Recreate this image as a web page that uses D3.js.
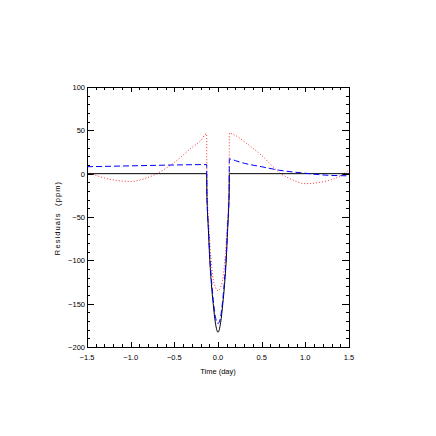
<!DOCTYPE html>
<html>
<head>
<meta charset="utf-8">
<script src="https://cdn.jsdelivr.net/npm/d3@7"></script>
<style>
  body { margin: 0; background: #fff; }
  svg text { font-family: "Liberation Sans", "DejaVu Sans", sans-serif; fill: #000; }
</style>
</head>
<body>
<svg id="chart" width="436" height="436"></svg>
<script>
// 黑色实线：模型差值
const blackT = [-1.5, -0.13, -0.128, -0.122, -0.11, -0.094, -0.075, -0.055, -0.03, 0, 0.03, 0.055, 0.075, 0.094, 0.11, 0.122, 0.128, 0.13, 1.5];
const blackV = [0, 0, -20, -40, -65, -100, -128, -150, -172, -183, -172, -150, -128, -100, -65, -40, -20, 0, 0];
// 蓝色虚线
const blueT = [-1.5, -1.0, -0.5, -0.13, -0.128, -0.122, -0.11, -0.094, -0.075, -0.055, -0.03, 0, 0.03, 0.055, 0.075, 0.094, 0.11, 0.122, 0.128, 0.13, 0.2, 0.3, 0.5, 0.7, 1.0, 1.2, 1.5];
const blueV = [8, 9, 10, 10.5, -20, -40, -62, -95, -122, -145, -165, -173, -165, -145, -122, -95, -62, -40, -20, 17, 15, 12, 8, 4, 0.5, -1.5, -2.5];
// 红色点线
const redT = [-1.5, -1.3, -1.0, -0.85, -0.7, -0.5, -0.3, -0.2, -0.13, -0.128, -0.12, -0.105, -0.09, -0.078, -0.06, -0.04, 0, 0.04, 0.06, 0.078, 0.09, 0.105, 0.12, 0.128, 0.13, 0.2, 0.34, 0.5, 0.72, 0.85, 1.0, 1.3, 1.5];
const redV = [2, -5, -9, -6, 0, 13, 30, 38, 46, 10, -30, -60, -85, -100, -118, -128, -135, -128, -118, -100, -85, -60, -30, 10, 47, 44, 34, 21, 0, -7, -11.5, -7, 4];

const xTicks = [-1.5, -1.0, -0.5, 0.0, 0.5, 1.0, 1.5];
const yTicks = [-200, -150, -100, -50, 0, 50, 100];

const svg = d3.select('#chart');
const pLeft = 87, pRight = 349, pTop = 87, pBottom = 347;
const x = d3.scaleLinear().domain([-1.5, 1.5]).range([pLeft, pRight]);
const y = d3.scaleLinear().domain([-200, 100]).range([pBottom, pTop]);

const fmtX = (d) => d3.format('.1f')(d).replace('-', '\u2212');
const fmtY = (d) => String(d).replace('-', '\u2212');

// 刻度：主刻度 + 次刻度，四边朝内
const xMinor = d3.range(-1.5, 1.5001, 0.1).map((d) => +d.toFixed(2));
const yMinor = d3.range(-200, 100.001, 10);
const majLen = 5, minLen = 3;
const tickG = svg.append('g').attr('stroke', '#000').attr('stroke-width', 1);
xMinor.forEach((t) => {
  const isMaj = xTicks.some((m) => Math.abs(m - t) < 1e-6);
  const len = isMaj ? majLen : minLen;
  const px = Math.round(x(t)) + 0.5;
  tickG.append('line').attr('x1', px).attr('x2', px).attr('y1', pBottom).attr('y2', pBottom - len);
  tickG.append('line').attr('x1', px).attr('x2', px).attr('y1', pTop).attr('y2', pTop + len);
});
yMinor.forEach((t) => {
  const isMaj = yTicks.includes(t);
  const len = isMaj ? majLen + 2 : minLen;
  const py = Math.round(y(t)) + 0.5;
  tickG.append('line').attr('y1', py).attr('y2', py).attr('x1', pLeft).attr('x2', pLeft + len);
  tickG.append('line').attr('y1', py).attr('y2', py).attr('x1', pRight).attr('x2', pRight - len);
});

// 刻度标签
svg.append('g').selectAll('text').data(xTicks).join('text')
  .attr('x', (d) => x(d)).attr('y', pBottom + 13)
  .attr('text-anchor', 'middle').attr('font-size', 7.5).text(fmtX);
svg.append('g').selectAll('text').data(yTicks).join('text')
  .attr('x', pLeft - 2).attr('y', (d) => y(d) + 3)
  .attr('text-anchor', 'end').attr('font-size', 7.5).text(fmtY);

// 坐标轴标题
svg.append('text').attr('x', (pLeft + pRight) / 2).attr('y', pBottom + 27)
  .attr('text-anchor', 'middle').attr('font-size', 7.5).text('Time (day)');
svg.append('text').attr('transform', `translate(60,218) rotate(-90)`)
  .attr('text-anchor', 'middle').attr('font-size', 7.5).attr('letter-spacing', 1.1)
  .attr('xml:space', 'preserve').style('white-space', 'pre').text('Residuals  (ppm)');

// 曲线
const line = d3.line().x((d) => x(d[0])).y((d) => y(d[1])).curve(d3.curveMonotoneX);
const plotG = svg.append('g');
plotG.append('path').datum(d3.zip(redT, redV)).attr('d', line)
  .attr('fill', 'none').attr('stroke', '#ff3030').attr('stroke-width', 1).attr('stroke-dasharray', '1,2');
plotG.append('path').datum(d3.zip(blackT, blackV)).attr('d', line)
  .attr('fill', 'none').attr('stroke', '#000').attr('stroke-width', 1);
plotG.append('path').datum(d3.zip(blueT, blueV)).attr('d', line)
  .attr('fill', 'none').attr('stroke', '#0000ff').attr('stroke-width', 1).attr('stroke-dasharray', '6,3');

// 边框
svg.append('rect').attr('x', pLeft + 0.5).attr('y', pTop + 0.5).attr('width', pRight - pLeft).attr('height', pBottom - pTop)
  .attr('fill', 'none').attr('stroke', '#000').attr('stroke-width', 1);
</script>
</body>
</html>
